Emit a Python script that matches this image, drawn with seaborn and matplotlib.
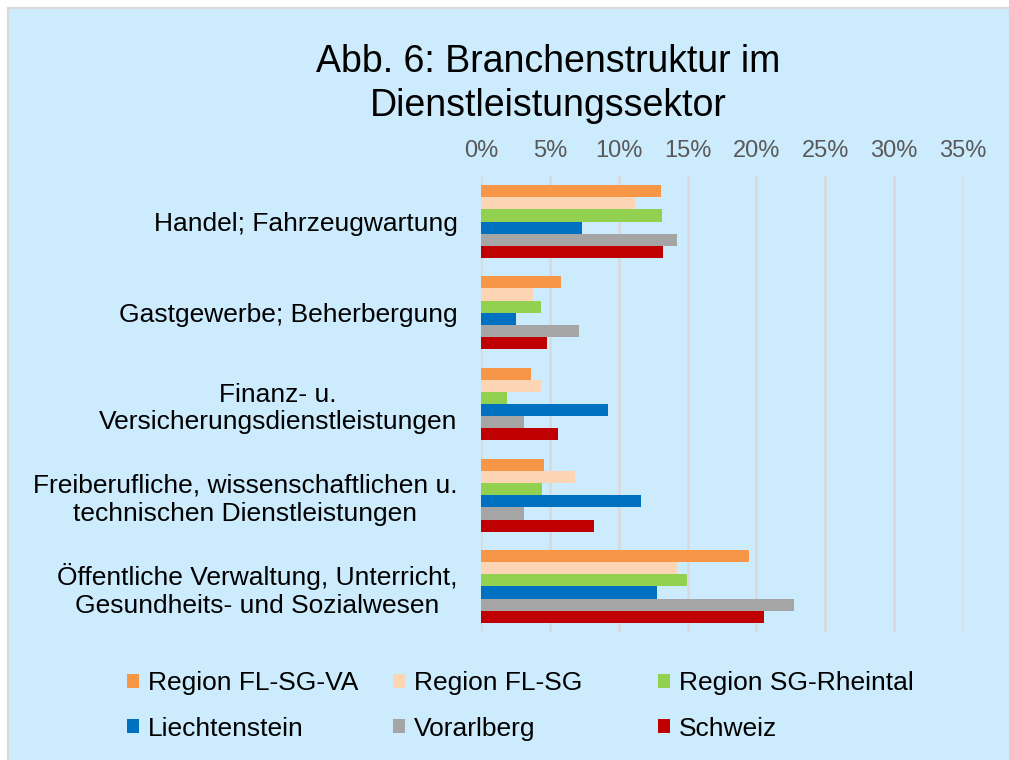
import pandas as pd
import matplotlib
matplotlib.use("Agg")
import matplotlib.pyplot as plt
import seaborn as sns
from matplotlib.patches import Patch, Rectangle

# data (percent)
categories = [
    "Handel; Fahrzeugwartung",
    "Gastgewerbe; Beherbergung",
    "Finanz- u.\nVersicherungsdienstleistungen",
    "Freiberufliche, wissenschaftlichen u.\ntechnischen Dienstleistungen",
    "Öffentliche Verwaltung, Unterricht,\nGesundheits- und Sozialwesen",
]
series = ["Region FL-SG-VA", "Region FL-SG", "Region SG-Rheintal",
          "Liechtenstein", "Vorarlberg", "Schweiz"]
colors = ["#F79646", "#FCD5B5", "#92D050", "#0070C0", "#A5A5A5", "#C00000"]

fl_sg_va = [13.06, 5.81, 3.61, 4.58, 19.43]
fl_sg = [11.19, 3.76, 4.36, 6.85, 14.22]
sg_rheintal = [13.13, 4.38, 1.89, 4.46, 14.97]
liechtenstein = [7.32, 2.54, 9.25, 11.63, 12.79]
vorarlberg = [14.24, 7.10, 3.13, 3.15, 22.70]
schweiz = [13.25, 4.80, 5.60, 8.19, 20.55]

xticks = [0, 5, 10, 15, 20, 25, 30, 35]

values = [fl_sg_va, fl_sg, sg_rheintal, liechtenstein, vorarlberg, schweiz]
rows = []
for s, vals in zip(series, values):
    for c, v in zip(categories, vals):
        rows.append({"category": c, "series": s, "value": v})
df = pd.DataFrame(rows)

sns.set_theme(style="white")
plt.rcParams["font.family"] = ["Liberation Sans", "DejaVu Sans"]
plt.rcParams["text.color"] = "black"

fig = plt.figure(figsize=(10.09, 7.6), dpi=100)
fig.patch.set_facecolor("white")
bg = Rectangle((8 / 1009, -0.01), 1.02, 1 - 8 / 760 + 0.01, transform=fig.transFigure,
               facecolor="#CCEBFC", edgecolor="#D9D9D9", lw=1.5, zorder=-1)
fig.add_artist(bg)

ax = fig.add_axes([481 / 1009, 1 - 632 / 760, (963 - 481) / 1009, (632 - 176) / 760])
ax.set_facecolor("none")

sns.barplot(data=df, x="value", y="category", hue="series", order=categories,
            hue_order=series, palette=colors, orient="h", width=0.8,
            saturation=1, legend=False, linewidth=0, ax=ax)

ax.set_xlim(0, 35)
ax.set_xticks(xticks)
ax.set_xticklabels([f"{t}%" for t in xticks])
ax.xaxis.tick_top()
ax.grid(axis="x", color="#D9D9D9", lw=1.8)
ax.set_axisbelow(True)
for sp in ax.spines.values():
    sp.set_visible(False)
ax.set_xlabel("")
ax.set_ylabel("")
ax.tick_params(axis="x", length=0, labelsize=17, colors="#595959", pad=10)
ax.tick_params(axis="y", length=0, labelsize=19, colors="black", pad=17)
for lbl in ax.get_yticklabels():
    lbl.set_multialignment("center")

fig.text(548 / 1009, 1 - 84 / 760, "Abb. 6: Branchenstruktur im\nDienstleistungssektor",
         ha="center", va="center", fontsize=27, linespacing=1.25, color="black")

# legend: three columns of two entries
handles = [Patch(facecolor=c, edgecolor="none") for c in colors]
col_x = [127, 393, 658]
for i, x in enumerate(col_x):
    leg = fig.legend([handles[i], handles[i + 3]], [series[i], series[i + 3]],
                     loc="center left", bbox_to_anchor=(x / 1009, 1 - 706 / 760),
                     frameon=False, fontsize=19, handlelength=0.45, handleheight=0.45,
                     handletextpad=0.35, labelspacing=0.8, borderpad=0,
                     borderaxespad=0, labelcolor="black")

fig.savefig("out.png", dpi=100)
